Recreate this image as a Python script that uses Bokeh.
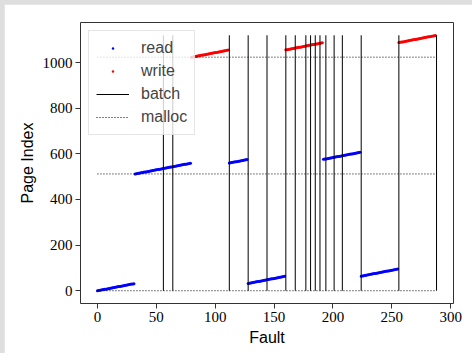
from bokeh.plotting import figure
from bokeh.layouts import column
from bokeh.models import Range1d, FixedTicker, Legend, LegendItem
from bokeh.embed import file_html
from bokeh.resources import INLINE

# ---- data ----
read_fault = [
    0, 1, 2, 3, 4, 5, 6, 7, 8, 9, 10, 11, 12, 13, 14, 15,
    16, 17, 18, 19, 20, 21, 22, 23, 24, 25, 26, 27, 28, 29, 30, 31,
    32, 33, 34, 35, 36, 37, 38, 39, 40, 41, 42, 43, 44, 45, 46, 47,
    48, 49, 50, 51, 52, 53, 54, 55, 56, 57, 58, 59, 60, 61, 62, 63,
    64, 65, 66, 67, 68, 69, 70, 71, 72, 73, 74, 75, 76, 77, 78, 79,
    112, 113, 114, 115, 116, 117, 118, 119, 120, 121, 122, 123, 124, 125, 126, 127,
    128, 129, 130, 131, 132, 133, 134, 135, 136, 137, 138, 139, 140, 141, 142, 143,
    144, 145, 146, 147, 148, 149, 150, 151, 152, 153, 154, 155, 156, 157, 158, 159,
    192, 193, 194, 195, 196, 197, 198, 199, 200, 201, 202, 203, 204, 205, 206, 207,
    208, 209, 210, 211, 212, 213, 214, 215, 216, 217, 218, 219, 220, 221, 222, 223,
    224, 225, 226, 227, 228, 229, 230, 231, 232, 233, 234, 235, 236, 237, 238, 239,
    240, 241, 242, 243, 244, 245, 246, 247, 248, 249, 250, 251, 252, 253, 254, 255,
]
read_page = [
    0, 1, 2, 3, 4, 5, 6, 7, 8, 9, 10, 11, 12, 13, 14, 15,
    16, 17, 18, 19, 20, 21, 22, 23, 24, 25, 26, 27, 28, 29, 30, 31,
    512, 513, 514, 515, 516, 517, 518, 519, 520, 521, 522, 523, 524, 525, 526, 527,
    528, 529, 530, 531, 532, 533, 534, 535, 536, 537, 538, 539, 540, 541, 542, 543,
    544, 545, 546, 547, 548, 549, 550, 551, 552, 553, 554, 555, 556, 557, 558, 559,
    560, 561, 562, 563, 564, 565, 566, 567, 568, 569, 570, 571, 572, 573, 574, 575,
    32, 33, 34, 35, 36, 37, 38, 39, 40, 41, 42, 43, 44, 45, 46, 47,
    48, 49, 50, 51, 52, 53, 54, 55, 56, 57, 58, 59, 60, 61, 62, 63,
    576, 577, 578, 579, 580, 581, 582, 583, 584, 585, 586, 587, 588, 589, 590, 591,
    592, 593, 594, 595, 596, 597, 598, 599, 600, 601, 602, 603, 604, 605, 606, 607,
    64, 65, 66, 67, 68, 69, 70, 71, 72, 73, 74, 75, 76, 77, 78, 79,
    80, 81, 82, 83, 84, 85, 86, 87, 88, 89, 90, 91, 92, 93, 94, 95,
]
write_fault = [
    80, 81, 82, 83, 84, 85, 86, 87, 88, 89, 90, 91, 92, 93, 94, 95,
    96, 97, 98, 99, 100, 101, 102, 103, 104, 105, 106, 107, 108, 109, 110, 111,
    160, 161, 162, 163, 164, 165, 166, 167, 168, 169, 170, 171, 172, 173, 174, 175,
    176, 177, 178, 179, 180, 181, 182, 183, 184, 185, 186, 187, 188, 189, 190, 191,
    256, 257, 258, 259, 260, 261, 262, 263, 264, 265, 266, 267, 268, 269, 270, 271,
    272, 273, 274, 275, 276, 277, 278, 279, 280, 281, 282, 283, 284, 285, 286, 287,
]
write_page = [
    1024, 1025, 1026, 1027, 1028, 1029, 1030, 1031, 1032, 1033, 1034, 1035, 1036, 1037, 1038, 1039,
    1040, 1041, 1042, 1043, 1044, 1045, 1046, 1047, 1048, 1049, 1050, 1051, 1052, 1053, 1054, 1055,
    1056, 1057, 1058, 1059, 1060, 1061, 1062, 1063, 1064, 1065, 1066, 1067, 1068, 1069, 1070, 1071,
    1072, 1073, 1074, 1075, 1076, 1077, 1078, 1079, 1080, 1081, 1082, 1083, 1084, 1085, 1086, 1087,
    1088, 1089, 1090, 1091, 1092, 1093, 1094, 1095, 1096, 1097, 1098, 1099, 1100, 1101, 1102, 1103,
    1104, 1105, 1106, 1107, 1108, 1109, 1110, 1111, 1112, 1113, 1114, 1115, 1116, 1117, 1118, 1119,
]
batch_fault = [56, 64, 112, 128, 144, 160, 168, 177, 181, 185, 189, 194, 201, 208, 224, 256, 288]
batch_low = 0
batch_high = 1120
malloc_page = [0, 512, 1024]
malloc_start = 0
malloc_end = 288

x_ticks = [0, 50, 100, 150, 200, 250, 300]
y_ticks = [0, 200, 400, 600, 800, 1000]

# ---- figure ----
p = figure(
    frame_width=373, frame_height=281,
    min_border_left=76, min_border_right=19, min_border_top=18, min_border_bottom=50,
    x_range=Range1d(-14.4, 302.4), y_range=Range1d(-56, 1176),
    output_backend="svg", toolbar_location=None,
    background_fill_color="white", border_fill_color="white",
)
p.grid.visible = False
p.outline_line_color = "#333333"
p.outline_line_width = 1

r_read = p.scatter(read_fault, read_page, size=3, fill_color="blue", line_color=None, marker="circle")
r_write = p.scatter(write_fault, write_page, size=3, fill_color="red", line_color=None, marker="circle")
r_batch = p.segment(x0=batch_fault, y0=[batch_low] * len(batch_fault),
                    x1=batch_fault, y1=[batch_high] * len(batch_fault),
                    line_color="black", line_width=1)
r_malloc = p.segment(x0=[malloc_start] * len(malloc_page), y0=malloc_page,
                     x1=[malloc_end] * len(malloc_page), y1=malloc_page,
                     line_color="black", line_width=1, line_dash="1 2")

for ax in (p.xaxis[0], p.yaxis[0]):
    ax.axis_line_color = None
    ax.major_tick_line_color = "#333333"
    ax.major_tick_out = 5
    ax.major_tick_in = 0
    ax.minor_tick_line_color = None
    ax.major_label_text_font = "Liberation Serif"
    ax.major_label_text_font_size = "15px"
    ax.major_label_text_color = "black"
    ax.major_label_standoff = 3
    ax.axis_label_text_font = "Liberation Sans"
    ax.axis_label_text_font_size = "16px"
    ax.axis_label_text_font_style = "normal"
    ax.axis_label_text_color = "black"

p.xaxis[0].ticker = FixedTicker(ticks=x_ticks)
p.yaxis[0].ticker = FixedTicker(ticks=y_ticks)
p.xaxis[0].axis_label = "Fault"
p.yaxis[0].axis_label = "Page Index"
p.xaxis[0].axis_label_standoff = 4
p.yaxis[0].axis_label_standoff = 4

legend = Legend(
    items=[
        LegendItem(label="read", renderers=[r_read]),
        LegendItem(label="write", renderers=[r_write]),
        LegendItem(label="batch", renderers=[r_batch]),
        LegendItem(label="malloc", renderers=[r_malloc]),
    ],
    location="top_left",
    margin=8,
    padding=7,
    spacing=3,
    glyph_width=33,
    glyph_height=6,
    label_height=20,
    label_standoff=12,
    label_text_font="Liberation Sans",
    label_text_font_size="16px",
    border_line_color="#cccccc",
    border_line_width=1,
    background_fill_color="white",
    background_fill_alpha=0.8,
)
p.add_layout(legend, "center")

page = column(p, styles={"background-color": "#dedede", "padding": "4px 0 0 4px"})

open("out.html", "w").write(file_html(page, INLINE))
